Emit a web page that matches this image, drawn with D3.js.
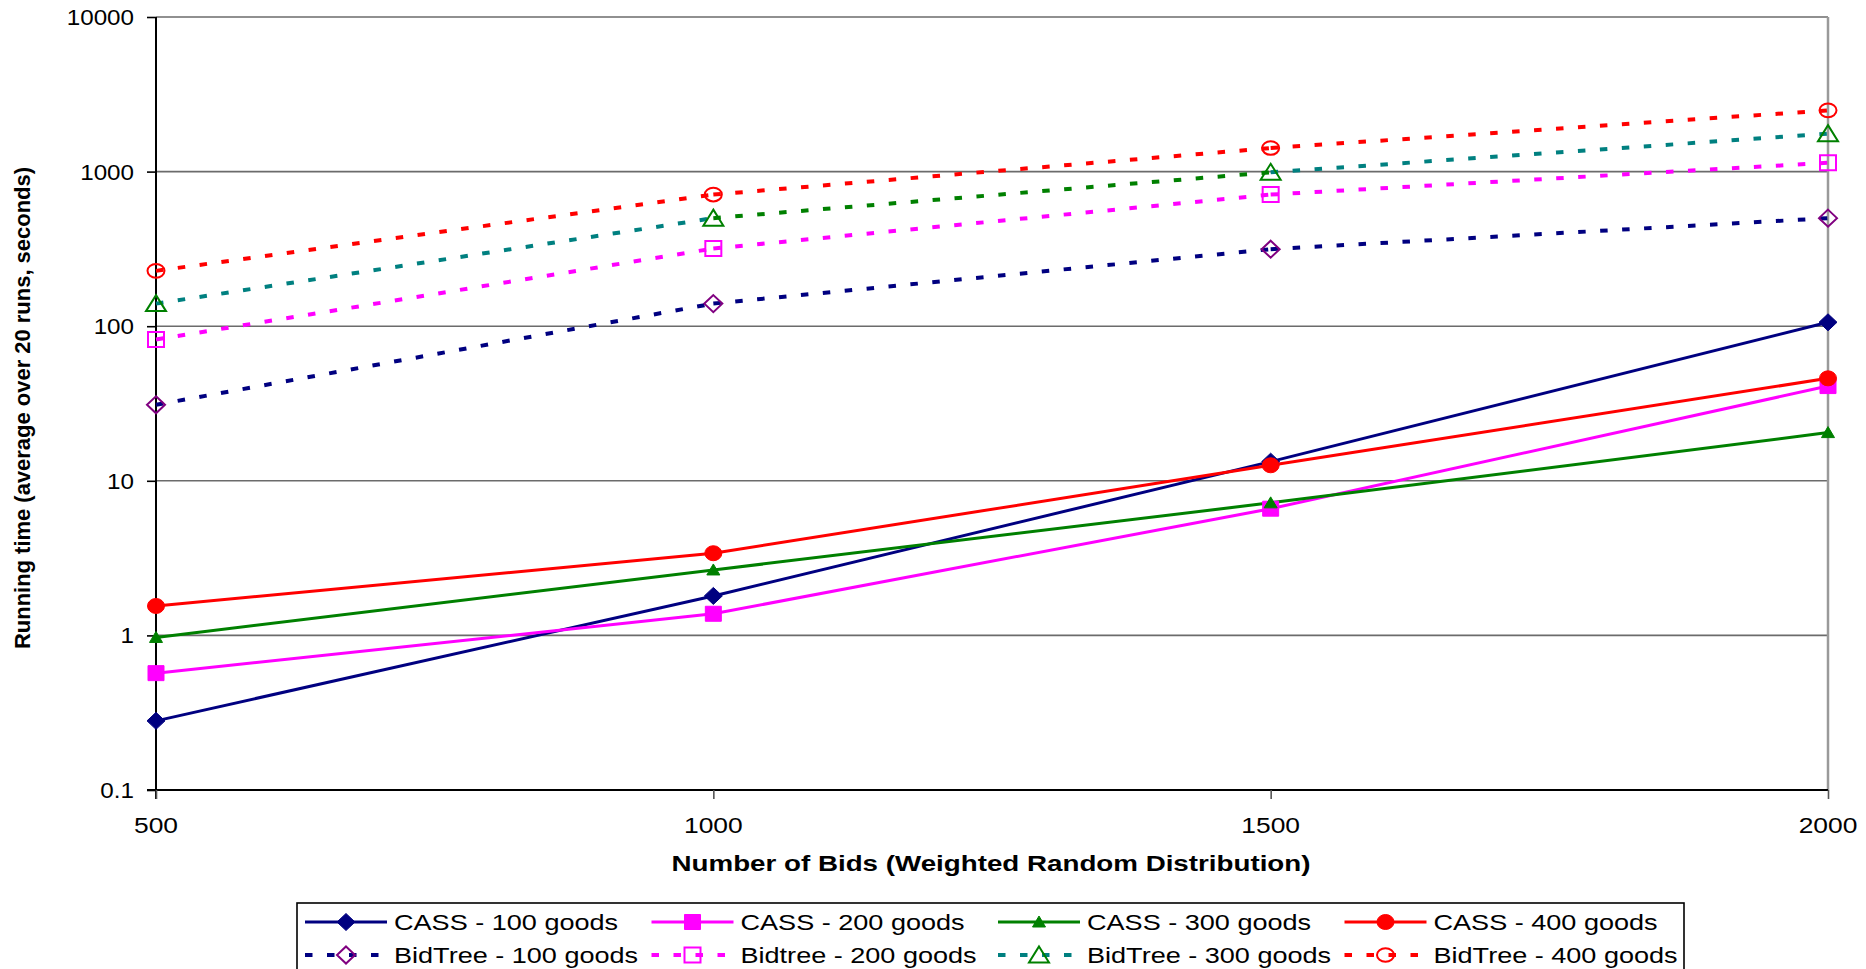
<!DOCTYPE html>
<html>
<head>
<meta charset="utf-8">
<script src="https://cdn.jsdelivr.net/npm/d3@7"></script>
<style>
  html, body { margin: 0; padding: 0; background: #ffffff; }
  svg { display: block; font-family: "Liberation Sans", Arial, sans-serif; }
</style>
</head>
<body>
<svg id="chart" width="1866" height="969"></svg>
<script>
// Number of bids on the x axis
const bids = [500, 1000, 1500, 2000];

// Running time in seconds, averaged over 20 runs
const cass100 = [0.28, 1.80, 13.3, 106];
const cass200 = [0.57, 1.38, 6.6, 41];
const cass300 = [0.97, 2.65, 7.2, 20.5];
const cass400 = [1.55, 3.40, 12.6, 46];
const bidtree100 = [31, 140, 315, 500];
const bidtree200 = [82, 318, 710, 1140];
const bidtree300 = [140, 500, 990, 1760];
const bidtree400 = [228, 710, 1420, 2490];

const seriesNames = [
  "CASS - 100 goods", "CASS - 200 goods", "CASS - 300 goods", "CASS - 400 goods",
  "BidTree - 100 goods", "Bidtree - 200 goods", "BidTree - 300 goods", "BidTree - 400 goods"
];
const seriesValues = [cass100, cass200, cass300, cass400, bidtree100, bidtree200, bidtree300, bidtree400];

const xTicks = [500, 1000, 1500, 2000];
const yTicks = [0.1, 1, 10, 100, 1000, 10000];
const yTickLabels = ["0.1", "1", "10", "100", "1000", "10000"];

const xTitle = "Number of Bids (Weighted Random Distribution)";
const yTitle = "Running time (average over 20 runs, seconds)";

// Styling per series
const lineColors = ["#000080", "#ff00ff", "#008000", "#ff0000", "#000080", "#ff00ff", "#008080", "#ff0000"];
// per-segment colour overrides (BidTree - 300 goods switches hue on its middle segment)
const segmentColors = [null, null, null, null, null, null, ["#008080", "#008000", "#008080"], null];
const markerColors = ["#000080", "#ff00ff", "#008000", "#ff0000", "#800080", "#ff00ff", "#008000", "#ff0000"];
const markerShapes = ["diamond", "square", "triangleSmall", "ellipse", "diamond", "square", "triangle", "ellipse"];
const markerFilled = [true, true, true, true, false, false, false, false];
const dashed = [false, false, false, false, true, true, true, true];

const svg = d3.select("#chart");

const plot = { left: 156, right: 1828, top: 17, bottom: 790 };

const x = d3.scaleLinear().domain([500, 2000]).range([plot.left, plot.right]);
const y = d3.scaleLog().domain([0.1, 10000]).range([plot.bottom, plot.top]);

// horizontal gridlines
svg.append("g")
  .selectAll("line")
  .data(yTicks.filter(d => d > 0.1))
  .join("line")
  .attr("x1", plot.left).attr("x2", plot.right)
  .attr("y1", d => y(d)).attr("y2", d => y(d))
  .attr("stroke", "#6b6b6b").attr("stroke-width", 1.6);

// right border of the plot area
svg.append("line")
  .attr("x1", plot.right).attr("x2", plot.right)
  .attr("y1", plot.top).attr("y2", plot.bottom)
  .attr("stroke", "#9a9a9a").attr("stroke-width", 2.5);

// y axis
const yAxis = d3.axisLeft(y).tickValues(yTicks).tickFormat("").tickSize(9).tickSizeOuter(0);
const gy = svg.append("g").attr("transform", `translate(${plot.left},0)`).call(yAxis);
gy.select(".domain").attr("stroke", "#000").attr("stroke-width", 2).attr("d", `M0,${plot.top}V${plot.bottom + 9}`);
gy.selectAll(".tick line").attr("stroke", "#000").attr("stroke-width", 1.6);

// x axis
const xAxis = d3.axisBottom(x).tickValues(xTicks).tickFormat("").tickSize(9).tickSizeOuter(0);
const gx = svg.append("g").attr("transform", `translate(0,${plot.bottom})`).call(xAxis);
gx.select(".domain").attr("stroke", "#000").attr("stroke-width", 2).attr("d", `M${plot.left - 9},0H${plot.right}`);
gx.selectAll(".tick line").attr("stroke", "#555").attr("stroke-width", 1.6);

// tick labels (slightly wide lettering)
svg.append("g")
  .selectAll("g")
  .data(yTicks)
  .join("g")
  .attr("transform", d => `translate(134,${y(d) + 8}) scale(1.1,1)`)
  .append("text")
  .attr("text-anchor", "end")
  .attr("font-size", 22)
  .attr("fill", "#000")
  .text((d, i) => yTickLabels[i]);

svg.append("g")
  .selectAll("g")
  .data(xTicks)
  .join("g")
  .attr("transform", d => `translate(${x(d)},833) scale(1.2,1)`)
  .append("text")
  .attr("text-anchor", "middle")
  .attr("font-size", 22)
  .attr("fill", "#000")
  .text(d => d);

// axis titles
svg.append("text")
  .attr("x", 991).attr("y", 871)
  .attr("text-anchor", "middle")
  .attr("font-size", 22).attr("font-weight", "bold")
  .attr("textLength", 639).attr("lengthAdjust", "spacingAndGlyphs")
  .text(xTitle);

svg.append("text")
  .attr("transform", "translate(30,408) rotate(-90)")
  .attr("text-anchor", "middle")
  .attr("font-size", 22).attr("font-weight", "bold")
  .attr("textLength", 482).attr("lengthAdjust", "spacingAndGlyphs")
  .text(yTitle);

// marker shapes centred on 0,0
function markerPath(shape) {
  switch (shape) {
    case "diamond": return "M0,-8.5L9,0L0,8.5L-9,0Z";
    case "square": return "M-8,-7.5H8V7.5H-8Z";
    case "triangleSmall": return "M0,-6L6.5,5H-6.5Z";
    case "triangle": return "M0,-8.5L10,7.5H-10Z";
    default: return null;
  }
}
function drawMarker(g, shape, color, filled, cx, cy) {
  let el;
  if (shape === "ellipse") {
    el = g.append("ellipse").attr("cx", cx).attr("cy", cy)
      .attr("rx", 8.5).attr("ry", filled ? 7.5 : 6.8);
  } else {
    el = g.append("path").attr("d", markerPath(shape))
      .attr("transform", `translate(${cx},${cy})`);
  }
  if (filled) {
    el.attr("fill", color).attr("stroke", color).attr("stroke-width", 1);
  } else {
    el.attr("fill", "none").attr("stroke", color).attr("stroke-width", 2);
  }
}

const dashPattern = "7.5,14.5";

// series lines, drawn segment by segment
const linesG = svg.append("g");
seriesValues.forEach((vals, si) => {
  const pts = vals.map((v, i) => [x(bids[i]), y(v)]);
  for (let i = 0; i < pts.length - 1; i++) {
    const color = segmentColors[si] ? segmentColors[si][i] : lineColors[si];
    linesG.append("path")
      .attr("d", d3.line()([pts[i], pts[i + 1]]))
      .attr("fill", "none")
      .attr("stroke", color)
      .attr("stroke-width", dashed[si] ? 4 : 3)
      .attr("stroke-dasharray", dashed[si] ? dashPattern : null);
  }
});

// series markers
const markersG = svg.append("g");
seriesValues.forEach((vals, si) => {
  vals.forEach((v, i) => {
    drawMarker(markersG, markerShapes[si], markerColors[si], markerFilled[si], x(bids[i]), y(v));
  });
});

// legend
const legend = svg.append("g");
legend.append("rect")
  .attr("x", 297).attr("y", 903).attr("width", 1387).attr("height", 90)
  .attr("fill", "#fff").attr("stroke", "#000").attr("stroke-width", 1.6);

const legendPitch = 346.5;
const legendRows = [922, 955];
seriesNames.forEach((name, si) => {
  const col = si % 4;
  const row = Math.floor(si / 4);
  const lx = 305 + col * legendPitch;
  const ly = legendRows[row];
  const item = legend.append("g");
  item.append("line")
    .attr("x1", lx).attr("x2", lx + 82)
    .attr("y1", ly).attr("y2", ly)
    .attr("stroke", lineColors[si])
    .attr("stroke-width", dashed[si] ? 4 : 3)
    .attr("stroke-dasharray", dashed[si] ? dashPattern : null);
  drawMarker(item, markerShapes[si], markerColors[si], markerFilled[si], lx + 41, ly);
  item.append("g")
    .attr("transform", `translate(${lx + 89},${ly + 8}) scale(1.23,1)`)
    .append("text")
    .attr("font-size", 22)
    .attr("fill", "#000")
    .text(name);
});
</script>
</body>
</html>
